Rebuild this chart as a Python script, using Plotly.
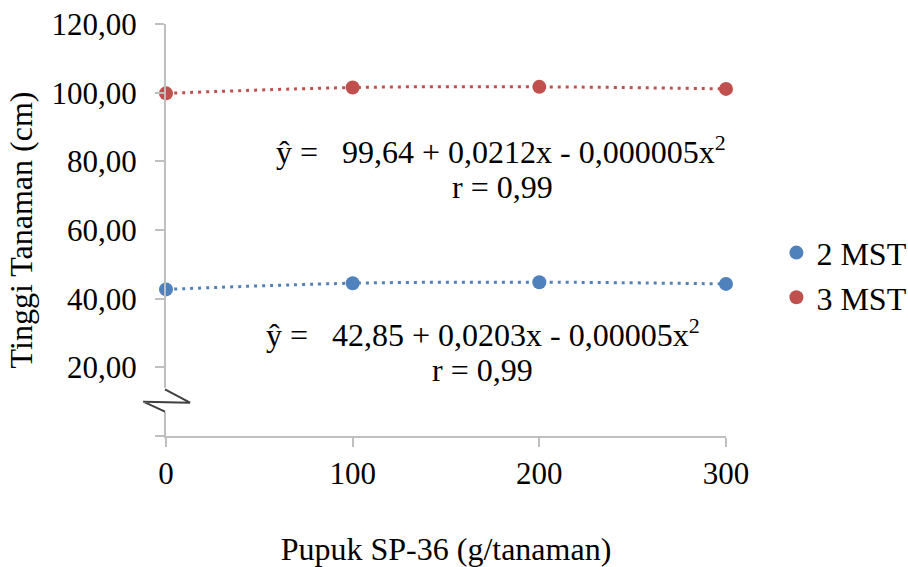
import plotly.graph_objects as go

# ---- data ----
dose = [0, 100, 200, 300]
mst2 = [42.7, 44.5, 44.8, 44.3]
mst3 = [99.8, 101.5, 101.7, 101.1]
series_names = ["2 MST", "3 MST"]
y_tickvals = [0, 20, 40, 60, 80, 100, 120]
y_ticktext = ["", "20,00", "40,00", "60,00", "80,00", "100,00", "120,00"]
x_tickvals = [0, 100, 200, 300]
SUP2 = "<sup><span style='font-size:22px'>2</span></sup>"
eq3_line = "ŷ =\u00a0\u00a0 99,64 + 0,0212x - 0,000005x" + SUP2
eq2_line = "ŷ =\u00a0\u00a0 42,85 + 0,0203x - 0,00005x" + SUP2
r_line = "r = 0,99"

FONT = "Liberation Serif"
FS_TICK = 31
FS = 32
BLUE = "#4F81BD"
RED = "#C0504D"
AXIS = "#BFBFBF"

fig = go.Figure()
for vals, name, col in [(mst2, series_names[0], BLUE), (mst3, series_names[1], RED)]:
    fig.add_trace(go.Scatter(x=dose, y=vals, mode="lines", showlegend=False,
                             line=dict(color=col, width=3, dash="3px,5px", shape="spline"),
                             hoverinfo="skip"))
for vals, name, col in [(mst2, series_names[0], BLUE), (mst3, series_names[1], RED)]:
    fig.add_trace(go.Scatter(x=dose, y=vals, mode="markers", name=name,
                             marker=dict(color=col, size=14), cliponaxis=False))

tickfont = dict(family=FONT, size=FS_TICK, color="black")
fig.update_layout(
    width=908, height=567,
    margin=dict(l=166, r=182, t=24, b=131, autoexpand=False),
    paper_bgcolor="white", plot_bgcolor="white",
    font=dict(family=FONT, size=FS, color="black"),
    legend=dict(x=1.09, y=0.39, xanchor="left", yanchor="middle",
                font=dict(family=FONT, size=FS), bgcolor="rgba(0,0,0,0)"),
    xaxis=dict(range=[0, 300], tickvals=x_tickvals, showline=True, linecolor=AXIS,
               linewidth=2, ticks="outside", ticklen=9, tickcolor=AXIS, tickwidth=2,
               showgrid=False, zeroline=False, ticklabelstandoff=0, automargin=False,
               tickfont=tickfont,
               title=dict(text="Pupuk SP-36 (g/tanaman)", standoff=50,
                          font=dict(family=FONT, size=FS))),
    yaxis=dict(range=[0, 120], tickvals=y_tickvals, ticktext=y_ticktext,
               showline=True, linecolor=AXIS, linewidth=2, ticks="outside",
               ticklen=9, tickcolor=AXIS, tickwidth=2, showgrid=False, zeroline=False,
               ticklabelstandoff=12, automargin=False, tickfont=tickfont,
               title=dict(text="Tinggi Tanaman (cm)", standoff=9,
                          font=dict(family=FONT, size=FS))),
    showlegend=True,
)

# axis break symbol
fig.add_shape(type="rect", xref="paper", yref="paper", x0=-0.041, x1=0.064,
              y0=0.058, y1=0.117, fillcolor="white", line=dict(width=0), layer="above")
fig.add_shape(type="path", xref="paper", yref="paper",
              path="M -0.0018,0.1133 L 0.0429,0.0808 L -0.0405,0.0833 L -0.0018,0.059",
              line=dict(color="#404040", width=2), layer="above")

for txt, xv, yv in [(eq3_line, 179.5, 83.3), (r_line, 180.0, 72.5),
                    (eq2_line, 170.0, 30.0), (r_line, 169.8, 19.2)]:
    fig.add_annotation(x=xv, y=yv, xref="x", yref="y", text=txt, showarrow=False,
                       align="center", font=dict(family=FONT, size=FS))

fig.write_html("out.html")
